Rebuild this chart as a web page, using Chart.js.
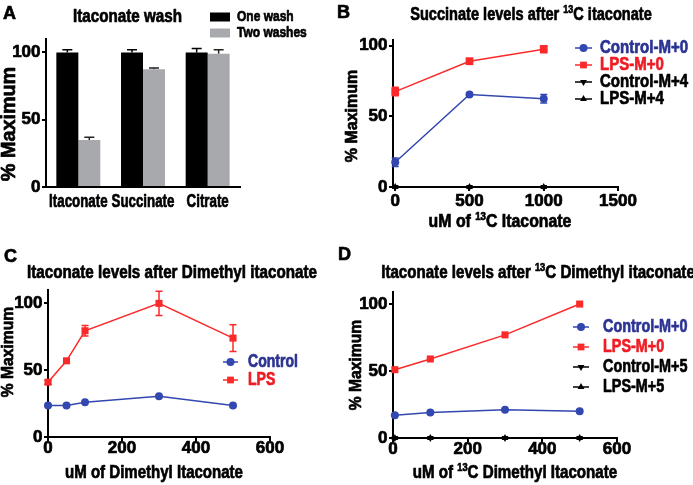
<!DOCTYPE html>
<html>
<head>
<meta charset="utf-8">
<script src="https://cdn.jsdelivr.net/npm/chart.js@4.4.1/dist/chart.umd.min.js"></script>
<style>
  html, body { margin: 0; padding: 0; background: #fff; }
  #wrap { position: relative; width: 693px; height: 485px; overflow: hidden; }
  canvas { position: absolute; }
</style>
</head>
<body>
<div id="wrap">
  <canvas id="panelA" width="340" height="230" style="left:0;top:0"></canvas>
  <canvas id="panelB" width="358" height="230" style="left:335px;top:0"></canvas>
  <canvas id="panelC" width="340" height="255" style="left:0;top:230px"></canvas>
  <canvas id="panelD" width="358" height="255" style="left:335px;top:230px"></canvas>
</div>
<script>
// Panel A - itaconate wash
const washCats = ['Itaconate', 'Succinate', 'Citrate'];
const oneWash = [100, 100, 100];
const oneWashErr = [2, 2, 3];
const twoWashes = [35, 87.5, 99];
const twoWashesErr = [2, 1, 3];

// % Maximum ticks, same on every panel
const pctTicks = [0, 50, 100];

// Panel B - succinate after 13C itaconate
const bDose = [0, 500, 1000];
const bCtrlM0 = [17.5, 65.5, 62.5];
const bCtrlM0Err = [3, 1, 3];
const bLpsM0 = [67.5, 89, 97.5];
const bLpsM0Err = [3, 1, 2.5];
const bCtrlM4 = [0, 0, 0];
const bLpsM4 = [0, 0, 0];
const bDoseTicks = [0, 500, 1000, 1500];

// Panel C - itaconate after dimethyl itaconate
const cDose = [0, 50, 100, 300, 500];
const cCtrl = [23.5, 23.5, 26, 30.5, 23.5];
const cLps = [41, 57, 79.5, 100, 74];
const cLpsErr = [1.5, 1, 4, 9, 10];
const cDoseTicks = [0, 200, 400, 600];

// Panel D - itaconate after 13C dimethyl itaconate
const dDose = [5, 100, 300, 500];
const dCtrlM0 = [17, 19, 21, 20];
const dLpsM0 = [51, 59, 77, 100];
const dCtrlM5 = [0, 0, 0, 0];
const dLpsM5 = [0, 0, 0, 0];
const dDoseTicks = [0, 200, 400, 600];

const FONT = "'Liberation Sans', Arial, sans-serif";
const BLUE = '#3347b0', BLUE_TXT = '#2b3393';
const RED = '#fb2a2a', RED_TXT = '#ee1d25';
const GREY = '#a7a9ac';
const HEAVY = 0.7; // extra stroke so the text looks as heavy as the original

Chart.defaults.font.family = FONT;
Chart.defaults.font.weight = 'bold';
Chart.defaults.color = '#000';
Chart.defaults.animation = false;
Chart.defaults.responsive = false;
Chart.defaults.plugins.legend.display = false;
Chart.defaults.plugins.tooltip.enabled = false;

// texts and legend placement per canvas (k = horizontal squeeze, the source font is condensed)
const decor = {
  panelA: {
    texts: [
      { t: ['A'], x: 3, y: 14, size: 19, k: 0.95, align: 'left' },
      { t: ['Itaconate wash'], x: 127.5, y: 17, size: 18, k: 0.845 },
      { t: ['% Maximum'], x: 9, y: 124, size: 20, k: 0.99, rot: true }
    ],
    catLabels: { dy: 15, size: 18, k: 0.74 },
    legend: { x: 210, box: [20, 9], tx: 237, y: 17, dy: 16, size: 15, k: 0.8 }
  },
  panelB: {
    texts: [
      { t: ['B'], x: 2, y: 13, size: 19, k: 0.95, align: 'left' },
      { t: ['Succinate levels after ', '^13', 'C itaconate'], x: 196, y: 15, size: 18, k: 0.81 },
      { t: ['% Maximum'], x: 17, y: 116, size: 17, k: 0.94, rot: true },
      { t: ['uM of ', '^13', 'C Itaconate'], x: 165, y: 222, size: 18, k: 0.88 }
    ],
    legend: { x: 240, len: 17, r: 4, tx: 265, y: 48, dy: 17, size: 18, k: 0.835 }
  },
  panelC: {
    texts: [
      { t: ['C'], x: 4, y: 27, size: 19, k: 0.95, align: 'left' },
      { t: ['Itaconate levels after Dimethyl itaconate'], x: 172, y: 43, size: 18, k: 0.845 },
      { t: ['% Maximum'], x: 8, y: 122, size: 17, k: 0.92, rot: true },
      { t: ['uM of Dimethyl Itaconate'], x: 154, y: 243, size: 18, k: 0.835 }
    ],
    legend: { x: 223, len: 15, r: 4, tx: 248, y: 132, dy: 18, size: 18, k: 0.78 }
  },
  panelD: {
    texts: [
      { t: ['D'], x: 3, y: 25, size: 19, k: 0.95, align: 'left' },
      { t: ['Itaconate levels after ', '^13', 'C Dimethyl itaconate'], x: 203, y: 43, size: 18, k: 0.84 },
      { t: ['% Maximum'], x: 21, y: 135, size: 17, k: 0.92, rot: true },
      { t: ['uM of ', '^13', 'C Dimethyl Itaconate'], x: 180, y: 243, size: 18, k: 0.84 }
    ],
    legend: { x: 238, len: 16, r: 4, tx: 268, y: 97, dy: 20, size: 18, k: 0.8 }
  }
};

function drawRich(ctx, item) {
  const size = item.size, k = item.k || 1;
  const parts = item.t.map(s => s[0] === '^' ? { s: s.slice(1), sup: true } : { s, sup: false });
  const fontOf = p => `bold ${p.sup ? Math.round(size * 0.6) : size}px ${FONT}`;
  let w = 0;
  parts.forEach(p => { ctx.font = fontOf(p); p.w = ctx.measureText(p.s).width; w += p.w; });
  ctx.save();
  ctx.translate(item.x, item.y);
  if (item.rot) ctx.rotate(-Math.PI / 2);
  ctx.scale(k, 1);
  ctx.fillStyle = ctx.strokeStyle = item.color || '#000';
  ctx.lineWidth = HEAVY;
  ctx.lineJoin = 'round';
  ctx.textBaseline = 'middle';
  ctx.textAlign = 'left';
  let cx = item.align === 'left' ? 0 : item.align === 'right' ? -w : -w / 2;
  parts.forEach(p => {
    ctx.font = fontOf(p);
    const ty = p.sup ? -size * 0.3 : 0;
    ctx.fillText(p.s, cx, ty);
    ctx.strokeText(p.s, cx, ty);
    cx += p.w;
  });
  ctx.restore();
}

function drawLegend(chart, L) {
  const ctx = chart.ctx;
  chart.data.datasets.forEach((ds, i) => {
    const y = L.y + i * L.dy;
    ctx.save();
    if (L.box) {
      ctx.fillStyle = ds.backgroundColor;
      ctx.fillRect(L.x, y - L.box[1] / 2, L.box[0], L.box[1]);
    } else {
      ctx.strokeStyle = ds.borderColor;
      ctx.lineWidth = 1.5;
      ctx.beginPath();
      ctx.moveTo(L.x, y);
      ctx.lineTo(L.x + L.len, y);
      ctx.stroke();
      ctx.fillStyle = ds.borderColor;
      Chart.helpers.drawPoint(ctx, {
        pointStyle: ds.pointStyle, rotation: ds.pointRotation || 0,
        radius: ds.pointStyle === 'rect' ? L.r * 1.2 : L.r, borderWidth: 0
      }, L.x + L.len / 2, y);
    }
    ctx.restore();
    drawRich(ctx, { t: [ds.label], x: L.tx, y, size: L.size, k: L.k, align: 'left', color: ds.textColor || '#000' });
  });
}

const decorPlugin = {
  id: 'decor',
  afterDraw(chart) {
    const d = decor[chart.canvas.id];
    d.texts.forEach(t => drawRich(chart.ctx, t));
    if (d.catLabels) {
      // category names placed at the category scale's own tick pixels
      const xs = chart.scales.x;
      xs.ticks.forEach((tick, i) => {
        drawRich(chart.ctx, { t: [String(xs.getLabelForValue(tick.value))], x: xs.getPixelForTick(i),
          y: xs.top + d.catLabels.dy, size: d.catLabels.size, k: d.catLabels.k });
      });
    }
    if (d.legend) drawLegend(chart, d.legend);
  }
};

// error bars from the dataset's errors array
const errorBarPlugin = {
  id: 'errorBars',
  beforeDatasetsDraw(chart) {
    const ctx = chart.ctx;
    chart.data.datasets.forEach((ds, i) => {
      if (!ds.errors) return;
      const meta = chart.getDatasetMeta(i);
      const yScale = chart.scales[meta.yAxisID];
      ctx.save();
      ctx.strokeStyle = ds.errColor || ds.borderColor;
      ctx.lineWidth = 1.5;
      meta.data.forEach((el, j) => {
        const e = ds.errors[j];
        if (!e) return;
        const v = meta.controller.getParsed(j).y;
        const top = yScale.getPixelForValue(v + e);
        const bot = ds.upOnly ? el.y : yScale.getPixelForValue(v - e);
        const cw = ds.capWidth / 2;
        ctx.beginPath();
        ctx.moveTo(el.x, top); ctx.lineTo(el.x, bot);
        ctx.moveTo(el.x - cw, top); ctx.lineTo(el.x + cw, top);
        if (!ds.upOnly) { ctx.moveTo(el.x - cw, bot); ctx.lineTo(el.x + cw, bot); }
        ctx.stroke();
      });
      ctx.restore();
    });
  }
};

const Y_W = 45, X_H = 30;

const tickFont = { size: 17, weight: 'bold' };

function pctAxis(max) {
  return {
    type: 'linear', min: 0, max,
    afterBuildTicks: s => { s.ticks = pctTicks.map(v => ({ value: v })); },
    afterFit: s => { s.width = Y_W; },
    border: { color: '#000', width: 2 },
    grid: { drawOnChartArea: false, color: '#000', lineWidth: 2, tickLength: 4 },
    ticks: { color: '#000', font: tickFont, padding: 1.5, callback: v => String(v),
      textStrokeColor: '#000', textStrokeWidth: HEAVY }
  };
}

function doseAxis(min, max, tickVals, pad) {
  return {
    type: 'linear', min, max,
    afterBuildTicks: s => { s.ticks = tickVals.map(v => ({ value: v })); },
    afterFit: s => { s.height = X_H; },
    border: { color: '#000', width: 2 },
    grid: { drawOnChartArea: false, color: '#000', lineWidth: 2, tickLength: 4 },
    ticks: { color: '#000', font: tickFont, padding: pad, maxRotation: 0, autoSkip: false,
      callback: v => String(v), textStrokeColor: '#000', textStrokeWidth: HEAVY }
  };
}

function series(label, xs, ys, color, style, extra) {
  return Object.assign({
    label,
    data: xs.map((x, i) => ({ x, y: ys[i] })),
    borderColor: color, backgroundColor: color,
    pointBackgroundColor: color, pointBorderWidth: 0,
    borderWidth: 1.5, pointStyle: style, pointRadius: 4,
    clip: false, tension: 0
  }, extra);
}

// A
new Chart(document.getElementById('panelA'), {
  type: 'bar',
  data: {
    labels: washCats,
    datasets: [
      { label: 'One wash', data: oneWash, backgroundColor: '#000', borderColor: '#000',
        errors: oneWashErr, upOnly: true, capWidth: 10, errColor: '#000' },
      { label: 'Two washes', data: twoWashes, backgroundColor: GREY, borderColor: GREY,
        errors: twoWashesErr, upOnly: true, capWidth: 10, errColor: '#222' }
    ]
  },
  options: {
    layout: { padding: { left: 46 - Y_W, top: 39, right: 100, bottom: 43 } },
    datasets: { bar: { categoryPercentage: 0.68, barPercentage: 1 } },
    scales: {
      x: {
        afterFit: s => { s.height = 0; },
        border: { color: '#000', width: 2 },
        grid: { display: false },
        ticks: { display: false }
      },
      y: pctAxis(110)
    }
  },
  plugins: [errorBarPlugin, decorPlugin]
});

// B
new Chart(document.getElementById('panelB'), {
  type: 'line',
  data: {
    datasets: [
      series('Control-M+0', bDose, bCtrlM0, BLUE, 'circle',
        { errors: bCtrlM0Err, capWidth: 7, textColor: BLUE_TXT }),
      series('LPS-M+0', bDose, bLpsM0, RED, 'rect',
        { errors: bLpsM0Err, capWidth: 7, textColor: RED_TXT, pointRadius: 5.5 }),
      series('Control-M+4', bDose, bCtrlM4, '#000', 'triangle', { pointRotation: 180 }),
      series('LPS-M+4', bDose, bLpsM4, '#000', 'triangle')
    ]
  },
  options: {
    layout: { padding: { left: 58 - Y_W, top: 40, right: 75, bottom: 43 - X_H } },
    scales: { x: doseAxis(-15, 1500, bDoseTicks, 0), y: pctAxis(104) }
  },
  plugins: [errorBarPlugin, decorPlugin]
});

// C
new Chart(document.getElementById('panelC'), {
  type: 'line',
  data: {
    datasets: [
      series('Control', cDose, cCtrl, BLUE, 'circle', { textColor: BLUE_TXT }),
      series('LPS', cDose, cLps, RED, 'rect',
        { errors: cLpsErr, capWidth: 7, textColor: RED_TXT, pointRadius: 5 })
    ]
  },
  options: {
    layout: { padding: { left: 48 - Y_W, top: 60, right: 70, bottom: 48 - X_H } },
    scales: { x: doseAxis(0, 600, cDoseTicks, -3), y: pctAxis(110) }
  },
  plugins: [errorBarPlugin, decorPlugin]
});

// D
new Chart(document.getElementById('panelD'), {
  type: 'line',
  data: {
    datasets: [
      series('Control-M+0', dDose, dCtrlM0, BLUE, 'circle', { textColor: BLUE_TXT }),
      series('LPS-M+0', dDose, dLpsM0, RED, 'rect', { textColor: RED_TXT, pointRadius: 5 }),
      series('Control-M+5', dDose, dCtrlM5, '#000', 'triangle', { pointRotation: 180 }),
      series('LPS-M+5', dDose, dLpsM5, '#000', 'triangle')
    ]
  },
  options: {
    layout: { padding: { left: 58 - Y_W, top: 62, right: 76, bottom: 47 - X_H } },
    scales: { x: doseAxis(0, 600, dDoseTicks, -3), y: pctAxis(109) }
  },
  plugins: [errorBarPlugin, decorPlugin]
});
</script>
</body>
</html>
